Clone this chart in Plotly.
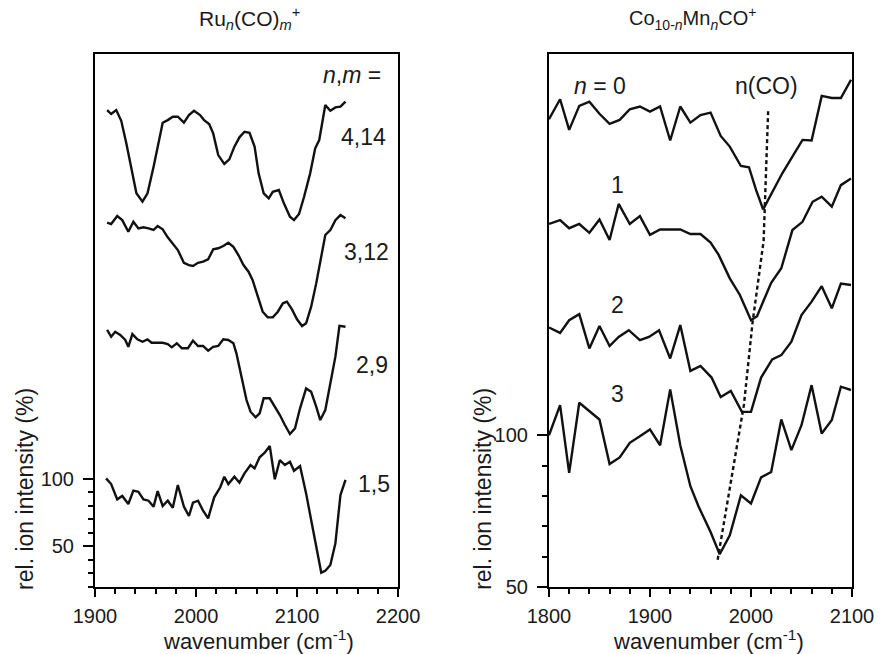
import plotly.graph_objects as go

# ---- Ru_n(CO)_m+ spectra (left panel), stacked on a common intensity scale ----
ru15_x = [1911, 1916, 1922, 1927, 1933, 1938, 1943, 1948, 1953, 1958, 1962, 1967, 1972, 1977, 1982, 1988,
          1993, 1997, 2002, 2007, 2012, 2018, 2024, 2028, 2032, 2038, 2043, 2048, 2054, 2058, 2063, 2068,
          2073, 2078, 2083, 2088, 2093, 2097, 2103, 2109, 2114, 2120, 2124, 2128, 2133, 2138, 2143, 2148]
ru15_y = [100.2, 96.0, 84.7, 87.2, 81.3, 91.1, 90.3, 84.7, 83.7, 79.3, 90.8, 79.8, 83.7, 78.5, 95.3, 79.3,
          72.4, 82.2, 83.7, 76.3, 70.7, 86.2, 93.6, 101.4, 96.0, 101.4, 97.0, 103.9, 110.0, 107.6, 115.7, 119.1,
          124.1, 99.5, 113.7, 110.0, 112.5, 105.8, 109.3, 89.1, 69.4, 47.3, 30.6, 32.0, 36.2, 52.2, 87.9, 99.0]

ru29_x = [1912, 1916, 1920, 1925, 1930, 1933, 1937, 1942, 1947, 1952, 1956, 1961, 1967, 1972, 1976, 1981,
          1986, 1992, 1997, 2002, 2007, 2012, 2017, 2022, 2027, 2032, 2037, 2040, 2046, 2050, 2054, 2059,
          2063, 2067, 2073, 2078, 2083, 2088, 2093, 2098, 2103, 2109, 2114, 2119, 2123, 2128, 2133, 2138,
          2142, 2148]
ru29_y = [209.7, 204.7, 208.4, 206.0, 202.3, 197.3, 206.7, 202.8, 201.0, 202.8, 200.3, 200.3, 200.3, 199.3,
          196.9, 199.9, 196.2, 196.2, 201.8, 197.9, 197.9, 194.4, 197.3, 197.9, 202.8, 202.3, 199.9, 192.5,
          172.8, 158.0, 149.4, 145.2, 148.2, 159.3, 159.3, 153.1, 146.9, 139.6, 132.9, 137.1, 151.9, 166.6,
          164.1, 153.1, 143.2, 150.6, 171.5, 190.0, 212.8, 212.1]

ru312_x = [1912, 1916, 1922, 1927, 1933, 1938, 1943, 1948, 1953, 1958, 1962, 1967, 1972, 1977, 1982, 1988,
           1993, 1997, 2002, 2007, 2012, 2017, 2022, 2027, 2032, 2037, 2042, 2047, 2052, 2056, 2061, 2066,
           2071, 2076, 2081, 2086, 2090, 2095, 2100, 2105, 2109, 2114, 2119, 2124, 2128, 2133, 2138, 2143,
           2148]
ru312_y = [288.9, 287.9, 293.8, 290.8, 282.2, 289.6, 284.7, 285.5, 284.7, 283.5, 286.4, 284.0, 278.1, 273.7,
           268.7, 259.3, 257.6, 256.9, 259.3, 260.1, 261.8, 269.2, 270.0, 271.7, 274.1, 271.1, 265.0, 257.6,
           252.7, 246.6, 234.2, 223.2, 219.0, 219.0, 223.2, 229.4, 230.6, 224.9, 217.6, 212.6, 214.6, 226.9,
           244.1, 262.6, 279.8, 283.5, 290.8, 294.5, 292.1]

ru414_x = [1912, 1916, 1921, 1926, 1931, 1936, 1941, 1947, 1952, 1958, 1963, 1967, 1972, 1977, 1982, 1988,
           1993, 1998, 2004, 2008, 2013, 2017, 2022, 2028, 2033, 2038, 2043, 2048, 2053, 2058, 2062, 2067,
           2072, 2076, 2082, 2087, 2093, 2097, 2102, 2107, 2113, 2118, 2122, 2128, 2133, 2138, 2143, 2148]
ru414_y = [372.0, 369.1, 372.0, 364.1, 347.5, 329.7, 310.6, 304.4, 310.6, 330.2, 347.5, 362.7, 364.6, 367.1,
           367.1, 362.7, 368.3, 371.5, 368.3, 364.6, 361.7, 354.8, 338.8, 332.2, 335.6, 345.0, 351.9, 356.0,
           355.3, 345.0, 325.3, 310.6, 306.9, 311.7, 313.0, 303.2, 293.3, 290.8, 295.3, 308.0, 325.3, 343.8,
           349.9, 375.7, 371.5, 374.0, 374.5, 378.2]

ru_series = [(ru15_x, ru15_y), (ru29_x, ru29_y), (ru312_x, ru312_y), (ru414_x, ru414_y)]
ru_labels = ["1,5", "2,9", "3,12", "4,14"]
ru_label_pos = [(2176, 96), (2174, 184), (2169, 267), (2166, 352)]

# ---- Co_(10-n)Mn_nCO+ spectra (right panel) ----
co0_x = [1800, 1811, 1820, 1830, 1840, 1850, 1860, 1870, 1880, 1890, 1900, 1910, 1920, 1930, 1940, 1950,
         1960, 1970, 1979, 1990, 1998, 2005, 2012, 2021, 2031, 2041, 2051, 2060, 2070, 2080, 2089, 2099]
co0_y = [204.1, 210.7, 200.6, 208.5, 209.9, 205.9, 202.6, 203.9, 207.4, 208.3, 206.6, 208.3, 197.1, 208.3,
         203.0, 205.5, 206.3, 198.6, 195.1, 188.7, 188.3, 180.8, 174.4, 180.2, 186.3, 191.8, 197.3, 197.1,
         211.8, 211.1, 211.1, 217.1]

co1_x = [1800, 1811, 1820, 1830, 1840, 1850, 1860, 1869, 1880, 1890, 1900, 1910, 1920, 1930, 1940, 1950,
         1960, 1968, 1979, 1989, 2000, 2006, 2012, 2020, 2030, 2041, 2051, 2061, 2070, 2080, 2089, 2099]
co1_y = [169.6, 170.9, 168.2, 169.6, 166.7, 171.1, 164.3, 176.2, 169.6, 172.2, 166.0, 167.8, 167.8, 167.8,
         166.3, 166.3, 163.5, 159.4, 151.7, 146.2, 137.9, 139.2, 144.0, 150.2, 155.0, 167.6, 170.3, 176.9,
         178.6, 175.3, 182.4, 184.6]

co2_x = [1800, 1811, 1820, 1830, 1840, 1850, 1860, 1869, 1879, 1890, 1899, 1909, 1920, 1930, 1940, 1950,
         1961, 1970, 1980, 1991, 2000, 2010, 2021, 2030, 2040, 2050, 2060, 2070, 2080, 2089, 2099]
co2_y = [135.5, 133.7, 137.9, 139.9, 128.6, 136.0, 129.4, 132.4, 134.6, 131.3, 132.4, 134.6, 125.3, 136.3,
         121.2, 122.8, 119.0, 112.6, 114.6, 107.7, 107.7, 119.0, 125.0, 126.4, 130.8, 139.6, 144.0, 149.1,
         141.8, 150.0, 149.5]

co3_x = [1800, 1811, 1820, 1830, 1850, 1860, 1870, 1880, 1890, 1900, 1910, 1920, 1930, 1940, 1948, 1960,
         1969, 1979, 1990, 2000, 2010, 2020, 2030, 2040, 2050, 2060, 2070, 2080, 2089, 2099]
co3_y = [100.0, 109.9, 87.6, 110.7, 105.2, 90.5, 92.7, 97.5, 99.7, 101.9, 96.7, 115.1, 96.7, 83.2, 76.6, 68.1,
         60.8, 67.0, 80.2, 77.5, 86.1, 87.9, 105.2, 95.1, 103.3, 116.5, 100.6, 105.0, 116.0, 114.9]

co_series = [(co0_x, co0_y), (co1_x, co1_y), (co2_x, co2_y), (co3_x, co3_y)]
co_labels = ["<i>n</i> = 0", "1", "2", "3"]
co_label_pos = [(1851, 215), (1868, 182.5), (1868, 143), (1868, 113.5)]

# shift of the CO stretch band minimum
nu_co_x = [1967, 1993, 2001.5, 2012.5, 2017]
nu_co_y = [59, 110, 137, 164, 207]

LINE = dict(color="#111111", width=2.4)
TXT = dict(family="Liberation Sans, Arial, sans-serif", color="#1a1a1a")

fig = go.Figure()
for x, y in ru_series:
    fig.add_trace(go.Scatter(x=x, y=y, mode="lines", line=LINE, xaxis="x", yaxis="y", showlegend=False))
for x, y in co_series:
    fig.add_trace(go.Scatter(x=x, y=y, mode="lines", line=LINE, xaxis="x2", yaxis="y2", showlegend=False))
fig.add_trace(go.Scatter(x=nu_co_x, y=nu_co_y, mode="lines",
                         line=dict(color="#111111", width=2.4, dash="4px,3px"),
                         xaxis="x2", yaxis="y2", showlegend=False))

frame = dict(showline=True, linecolor="black", linewidth=2, mirror=True, showgrid=False, zeroline=False,
             ticks="outside", tickcolor="black", tickwidth=1.5, tickfont=dict(size=20, **TXT))

fig.update_layout(
    width=886, height=654,
    margin=dict(l=95, r=24, t=54, b=67),
    paper_bgcolor="white", plot_bgcolor="white",
    xaxis=dict(domain=[0, 0.4003], range=[1900, 2200], tickmode="array", tickvals=[1900, 2000, 2100, 2200],
               ticklen=8, ticklabelstandoff=2,
               minor=dict(tickmode="linear", tick0=1900, dtick=20, ticks="outside", ticklen=5,
                          tickwidth=1.5, tickcolor="black"),
               anchor="y", **frame),
    yaxis=dict(domain=[0, 1], range=[20, 413.4], tickmode="array", tickvals=[50, 100], ticklen=10,
               ticklabelstandoff=5,
               minor=dict(tickmode="array", tickvals=[20, 30, 40, 60, 70, 80, 90], ticks="outside",
                          ticklen=5, tickwidth=1.5, tickcolor="black"),
               anchor="x", **frame),
    xaxis2=dict(domain=[0.5997, 1], range=[1800, 2100], tickmode="array", tickvals=[1800, 1900, 2000, 2100],
                ticklen=8, ticklabelstandoff=2,
                minor=dict(tickmode="linear", tick0=1800, dtick=20, ticks="outside", ticklen=5,
                           tickwidth=1.5, tickcolor="black"),
                anchor="y2", **frame),
    yaxis2=dict(domain=[0, 1], range=[50, 225.6], tickmode="array", tickvals=[50, 100], ticklen=10,
                ticklabelstandoff=5,
                minor=dict(tickmode="array", tickvals=[60, 70, 80, 90], ticks="outside",
                           ticklen=5, tickwidth=1.5, tickcolor="black"),
                anchor="x2", **frame),
)

ann = []
# trace labels, left panel
ann.append(dict(x=2154, y=398, xref="x", yref="y", text="<i>n</i>,<i>m</i> =", showarrow=False,
                xanchor="center", yanchor="middle", font=dict(size=23, **TXT)))
for (lx, ly), t in zip(ru_label_pos, ru_labels):
    ann.append(dict(x=lx, y=ly, xref="x", yref="y", text=t, showarrow=False,
                    xanchor="center", yanchor="middle", font=dict(size=23, **TXT)))
# trace labels, right panel
for (lx, ly), t in zip(co_label_pos, co_labels):
    ann.append(dict(x=lx, y=ly, xref="x2", yref="y2", text=t, showarrow=False,
                    xanchor="center", yanchor="middle", font=dict(size=23, **TXT)))
ann.append(dict(x=2015, y=215, xref="x2", yref="y2", text="n(CO)", showarrow=False,
                xanchor="center", yanchor="middle", font=dict(size=23, **TXT)))

# panel titles
ann.append(dict(x=0.2047, y=1.066, xref="paper", yref="paper", xanchor="center", yanchor="middle",
                text="Ru<sub><i>n</i></sub>(CO)<sub><i>m</i></sub><sup>+</sup>", showarrow=False,
                font=dict(size=21, **TXT)))
ann.append(dict(x=0.7888, y=1.066, xref="paper", yref="paper", xanchor="center", yanchor="middle",
                text="Co<sub>10-<i>n</i></sub>Mn<sub><i>n</i></sub>CO<sup>+</sup>", showarrow=False,
                font=dict(size=20, **TXT)))

# axis titles
for xp in (0.2164, 0.811):
    ann.append(dict(x=xp, y=-0.0985, xref="paper", yref="paper", xanchor="center", yanchor="middle",
                    text="wavenumber (cm<sup>-1</sup>)", showarrow=False, font=dict(size=22, **TXT)))
for xp in (-0.0926, 0.5124):
    ann.append(dict(x=xp, y=0.1839, xref="paper", yref="paper", textangle=-90, xanchor="center",
                    yanchor="middle", text="rel. ion intensity (%)", showarrow=False, font=dict(size=23, **TXT)))

fig.update_layout(annotations=ann)
fig.write_html("out.html")
